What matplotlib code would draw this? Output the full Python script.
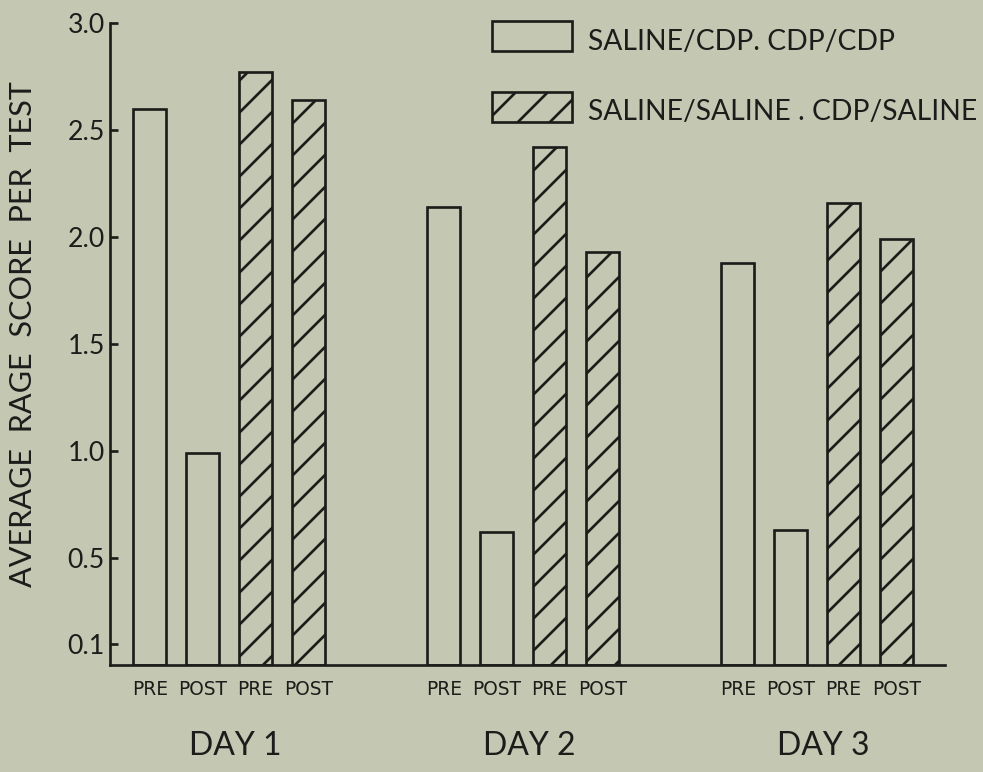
import numpy as np
import matplotlib.pyplot as plt
from matplotlib.patches import Rectangle

# Data
days = ['DAY 1', 'DAY 2', 'DAY 3']
bar_labels = ['PRE', 'POST', 'PRE', 'POST']
cdp_pre = [2.60, 2.14, 1.88]
cdp_post = [0.99, 0.62, 0.63]
sal_pre = [2.77, 2.42, 2.16]
sal_post = [2.64, 1.93, 1.99]
legend_labels = ['SALINE/CDP. CDP/CDP', 'SALINE/SALINE . CDP/SALINE']
yticks = [0.1, 0.5, 1.0, 1.5, 2.0, 2.5, 3.0]
ytick_labels = ['0.1', '0.5', '1.0', '1.5', '2.0', '2.5', '3.0']

bg = '#c4c7b2'
ink = '#1c1c1a'

# hatch cell scales with dpi, so a high dpi gives the wide line spacing of the original
DPI = 192
plt.rcParams['hatch.linewidth'] = 1.0
plt.rcParams['font.family'] = ['Lato', 'DejaVu Sans']

fig = plt.figure(figsize=(983 / DPI, 772 / DPI), dpi=DPI, facecolor=bg)
ax = fig.add_axes([110 / 983, 1 - 665 / 772, 835 / 983, 642 / 772])
ax.set_facecolor(bg)

x = np.arange(len(days))
step = 0.18
width = 0.112
series = [(cdp_pre, -1.5, ''), (cdp_post, -0.5, ''),
          (sal_pre, 0.5, '//'), (sal_post, 1.5, '//')]
positions = []
for vals, k, hatch in series:
    ax.bar(x + k * step, vals, width, facecolor=bg, edgecolor=ink,
           linewidth=1.0, hatch=hatch)
    positions.append(x + k * step)

pos = np.array(positions).T.ravel()
ax.set_xticks(pos, bar_labels * len(days), fontfamily='DejaVu Sans',
              fontsize=7, color=ink)
ax.set_xlim(-0.405, 2.435)
ax.set_ylim(0, 3.0)
ax.set_yticks(yticks, ytick_labels)

ax.tick_params(axis='x', length=0, pad=5.5)
ax.tick_params(axis='y', direction='in', length=3, width=1.0, pad=2,
               labelsize=10, colors=ink)
for s in ['top', 'right']:
    ax.spines[s].set_visible(False)
for s in ['left', 'bottom']:
    ax.spines[s].set_linewidth(1.0)
    ax.spines[s].set_color(ink)

for i, d in enumerate(days):
    ax.text(x[i] + 0.02, -0.126, d, transform=ax.get_xaxis_transform(),
            ha='center', va='center', fontsize=12, color=ink)

fig.text(23 / 983, 1 - 334 / 772, 'AVERAGE  RAGE  SCORE  PER  TEST',
         rotation=90, ha='center', va='center', fontsize=11.5, color=ink)

# legend boxes drawn by hand, like the original lettering
for label, hatch, top, base in [(legend_labels[0], '', 21, 50),
                                (legend_labels[1], '//', 92, 120)]:
    fig.add_artist(Rectangle((492 / 983, 1 - (top + 30) / 772), 80 / 983, 30 / 772,
                             transform=fig.transFigure, facecolor=bg,
                             edgecolor=ink, linewidth=1.0, hatch=hatch))
    fig.text(588 / 983, 1 - base / 772, label, va='baseline', ha='left',
             fontsize=10.6, color=ink)

fig.savefig('out.png', dpi=DPI, facecolor=bg)
